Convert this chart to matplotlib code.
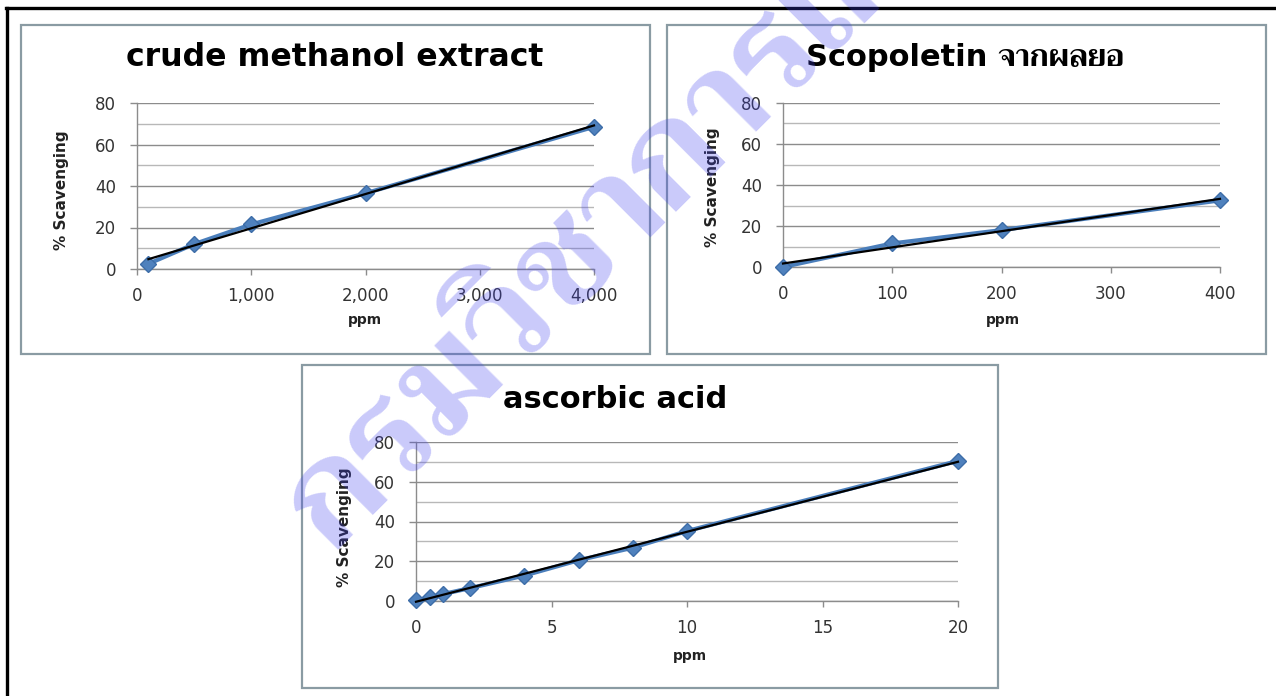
import numpy as np
import matplotlib
matplotlib.use("Agg")
import matplotlib.pyplot as plt
from matplotlib.patches import Rectangle
from matplotlib.lines import Line2D
from matplotlib.ticker import MultipleLocator, FuncFormatter
from matplotlib import font_manager
from matplotlib.ft2font import FT2Font

# ---------------- data ----------------
crude_ppm = [100, 500, 1000, 2000, 4000]
crude_scav = [2.5, 12.0, 21.5, 36.5, 68.5]

scop_ppm = [0, 100, 200, 400]
scop_scav = [0.0, 11.5, 18.0, 32.5]

asc_ppm = [0, 0.5, 1, 2, 4, 6, 8, 10, 20]
asc_scav = [0.3, 1.8, 3.5, 6.5, 12.8, 20.5, 26.8, 35.2, 70.5]

titles = ["crude methanol extract", "Scopoletin จากผลยอ", "ascorbic acid"]
y_label = "% Scavenging"
x_label = "ppm"
watermark = "กรมวิชาการเกษตร"

# ---------------- fonts ----------------
def find_thai_font():
    best = None
    for f in font_manager.fontManager.ttflist:
        try:
            if 0x0E01 in FT2Font(f.fname).get_charmap():
                if best is None or f.weight in ("bold", 700):
                    best = f.name
        except Exception:
            pass
    return best

thai = find_thai_font()
title_family = ["DejaVu Sans"] + ([thai] if thai else [])
wm_family = ([thai] if thai else []) + ["DejaVu Sans"]

W, H = 1276, 696
fig = plt.figure(figsize=(W / 100, H / 100), dpi=100)
fig.patch.set_facecolor("white")

def fx(x):
    return x / W

def fy(y):
    return 1 - y / H

# outer black border (left and top)
fig.add_artist(Line2D([fx(7), fx(7)], [fy(8), fy(700)], color="black", lw=2.4, transform=fig.transFigure))
fig.add_artist(Line2D([fx(6), fx(1280)], [fy(8), fy(8)], color="black", lw=2.4, transform=fig.transFigure))

# panel boxes (pixel coords x0, y0, x1, y1)
boxes = [(21, 25, 650, 354), (667, 25, 1266, 354), (302, 365, 998, 688)]
for (x0, y0, x1, y1) in boxes:
    fig.add_artist(Rectangle((fx(x0), fy(y1)), fx(x1 - x0), (y1 - y0) / H, transform=fig.transFigure,
                             fill=False, ec="#8a9ba3", lw=1.6))

# axes areas in pixels: x0, x1, ytop, ybottom
areas = [(137, 594, 103, 269), (783, 1220, 103, 267), (416, 958, 442, 601)]
datasets = [(crude_ppm, crude_scav), (scop_ppm, scop_scav), (asc_ppm, asc_scav)]
xmaxes = [4000, 400, 20]
xsteps = [1000, 100, 5]
title_pos = [(335, 58), (965, 58), (615, 399)]
ylab_pos = [(62, 190), (712, 187), (345, 527)]
xlab_pos = [(365, 320), (1003, 320), (690, 656)]
title_sizes = [22.7, 22, 22]

for i in range(3):
    x0, x1, yt, yb = areas[i]
    ax = fig.add_axes([fx(x0), fy(yb), fx(x1 - x0), (yb - yt) / H])
    xs, ys = datasets[i]
    ax.set_xlim(0, xmaxes[i])
    ax.set_ylim(0, 80)
    ax.yaxis.set_major_locator(MultipleLocator(20))
    ax.yaxis.set_minor_locator(MultipleLocator(10))
    ax.xaxis.set_major_locator(MultipleLocator(xsteps[i]))
    if i == 0:
        ax.xaxis.set_major_formatter(FuncFormatter(lambda v, p: f"{int(v):,}"))
    ax.grid(True, which="major", axis="y", color="#8c8c8c", lw=1.0, zorder=0)
    ax.grid(True, which="minor", axis="y", color="#b8b8b8", lw=1.0, zorder=0)
    ax.tick_params(axis="y", which="minor", length=0)
    ax.tick_params(axis="y", which="major", direction="out", length=5, width=1, color="#8c8c8c",
                   pad=10, labelsize=12, labelcolor="#333333")
    ax.tick_params(axis="x", which="major", direction="out", length=4, width=1, color="#8c8c8c",
                   pad=9, labelsize=12, labelcolor="#333333")
    for s in ["top", "right"]:
        ax.spines[s].set_visible(False)
    for s in ["left", "bottom"]:
        ax.spines[s].set_color("#8c8c8c")
        ax.spines[s].set_linewidth(1.0)
    ax.set_axisbelow(True)
    ax.patch.set_alpha(0)

    ax.plot(xs, ys, color="#4a7ebb", lw=3.0, marker="D", ms=8, mfc="#4f81bd", mec="#3d6da8",
            clip_on=False, zorder=3)
    coef = np.polyfit(xs, ys, 1)
    xt = np.array([min(xs), max(xs)])
    ax.plot(xt, np.polyval(coef, xt), color="black", lw=1.6, zorder=4, clip_on=False)

    tx, ty = title_pos[i]
    fig.text(fx(tx), fy(ty), titles[i], ha="center", va="center", fontsize=title_sizes[i],
             fontweight="bold", family=title_family, color="black")
    lx, ly = ylab_pos[i]
    fig.text(fx(lx), fy(ly), y_label, ha="center", va="center", rotation=90, fontsize=11,
             fontweight="bold", family=["Liberation Sans Narrow", "DejaVu Sans"], color="#222222")
    px, py = xlab_pos[i]
    fig.text(fx(px), fy(py), x_label, ha="center", va="center", fontsize=10, fontweight="bold",
             family=["DejaVu Sans"], color="#222222")

# watermark
fig.text(fx(332), fy(552), watermark, ha="left", va="baseline", rotation=45, rotation_mode="anchor",
         fontsize=100, fontweight="bold", family=wm_family, color="#4040ee", alpha=0.28, zorder=10)

fig.savefig("out.png", dpi=100, facecolor="white")
